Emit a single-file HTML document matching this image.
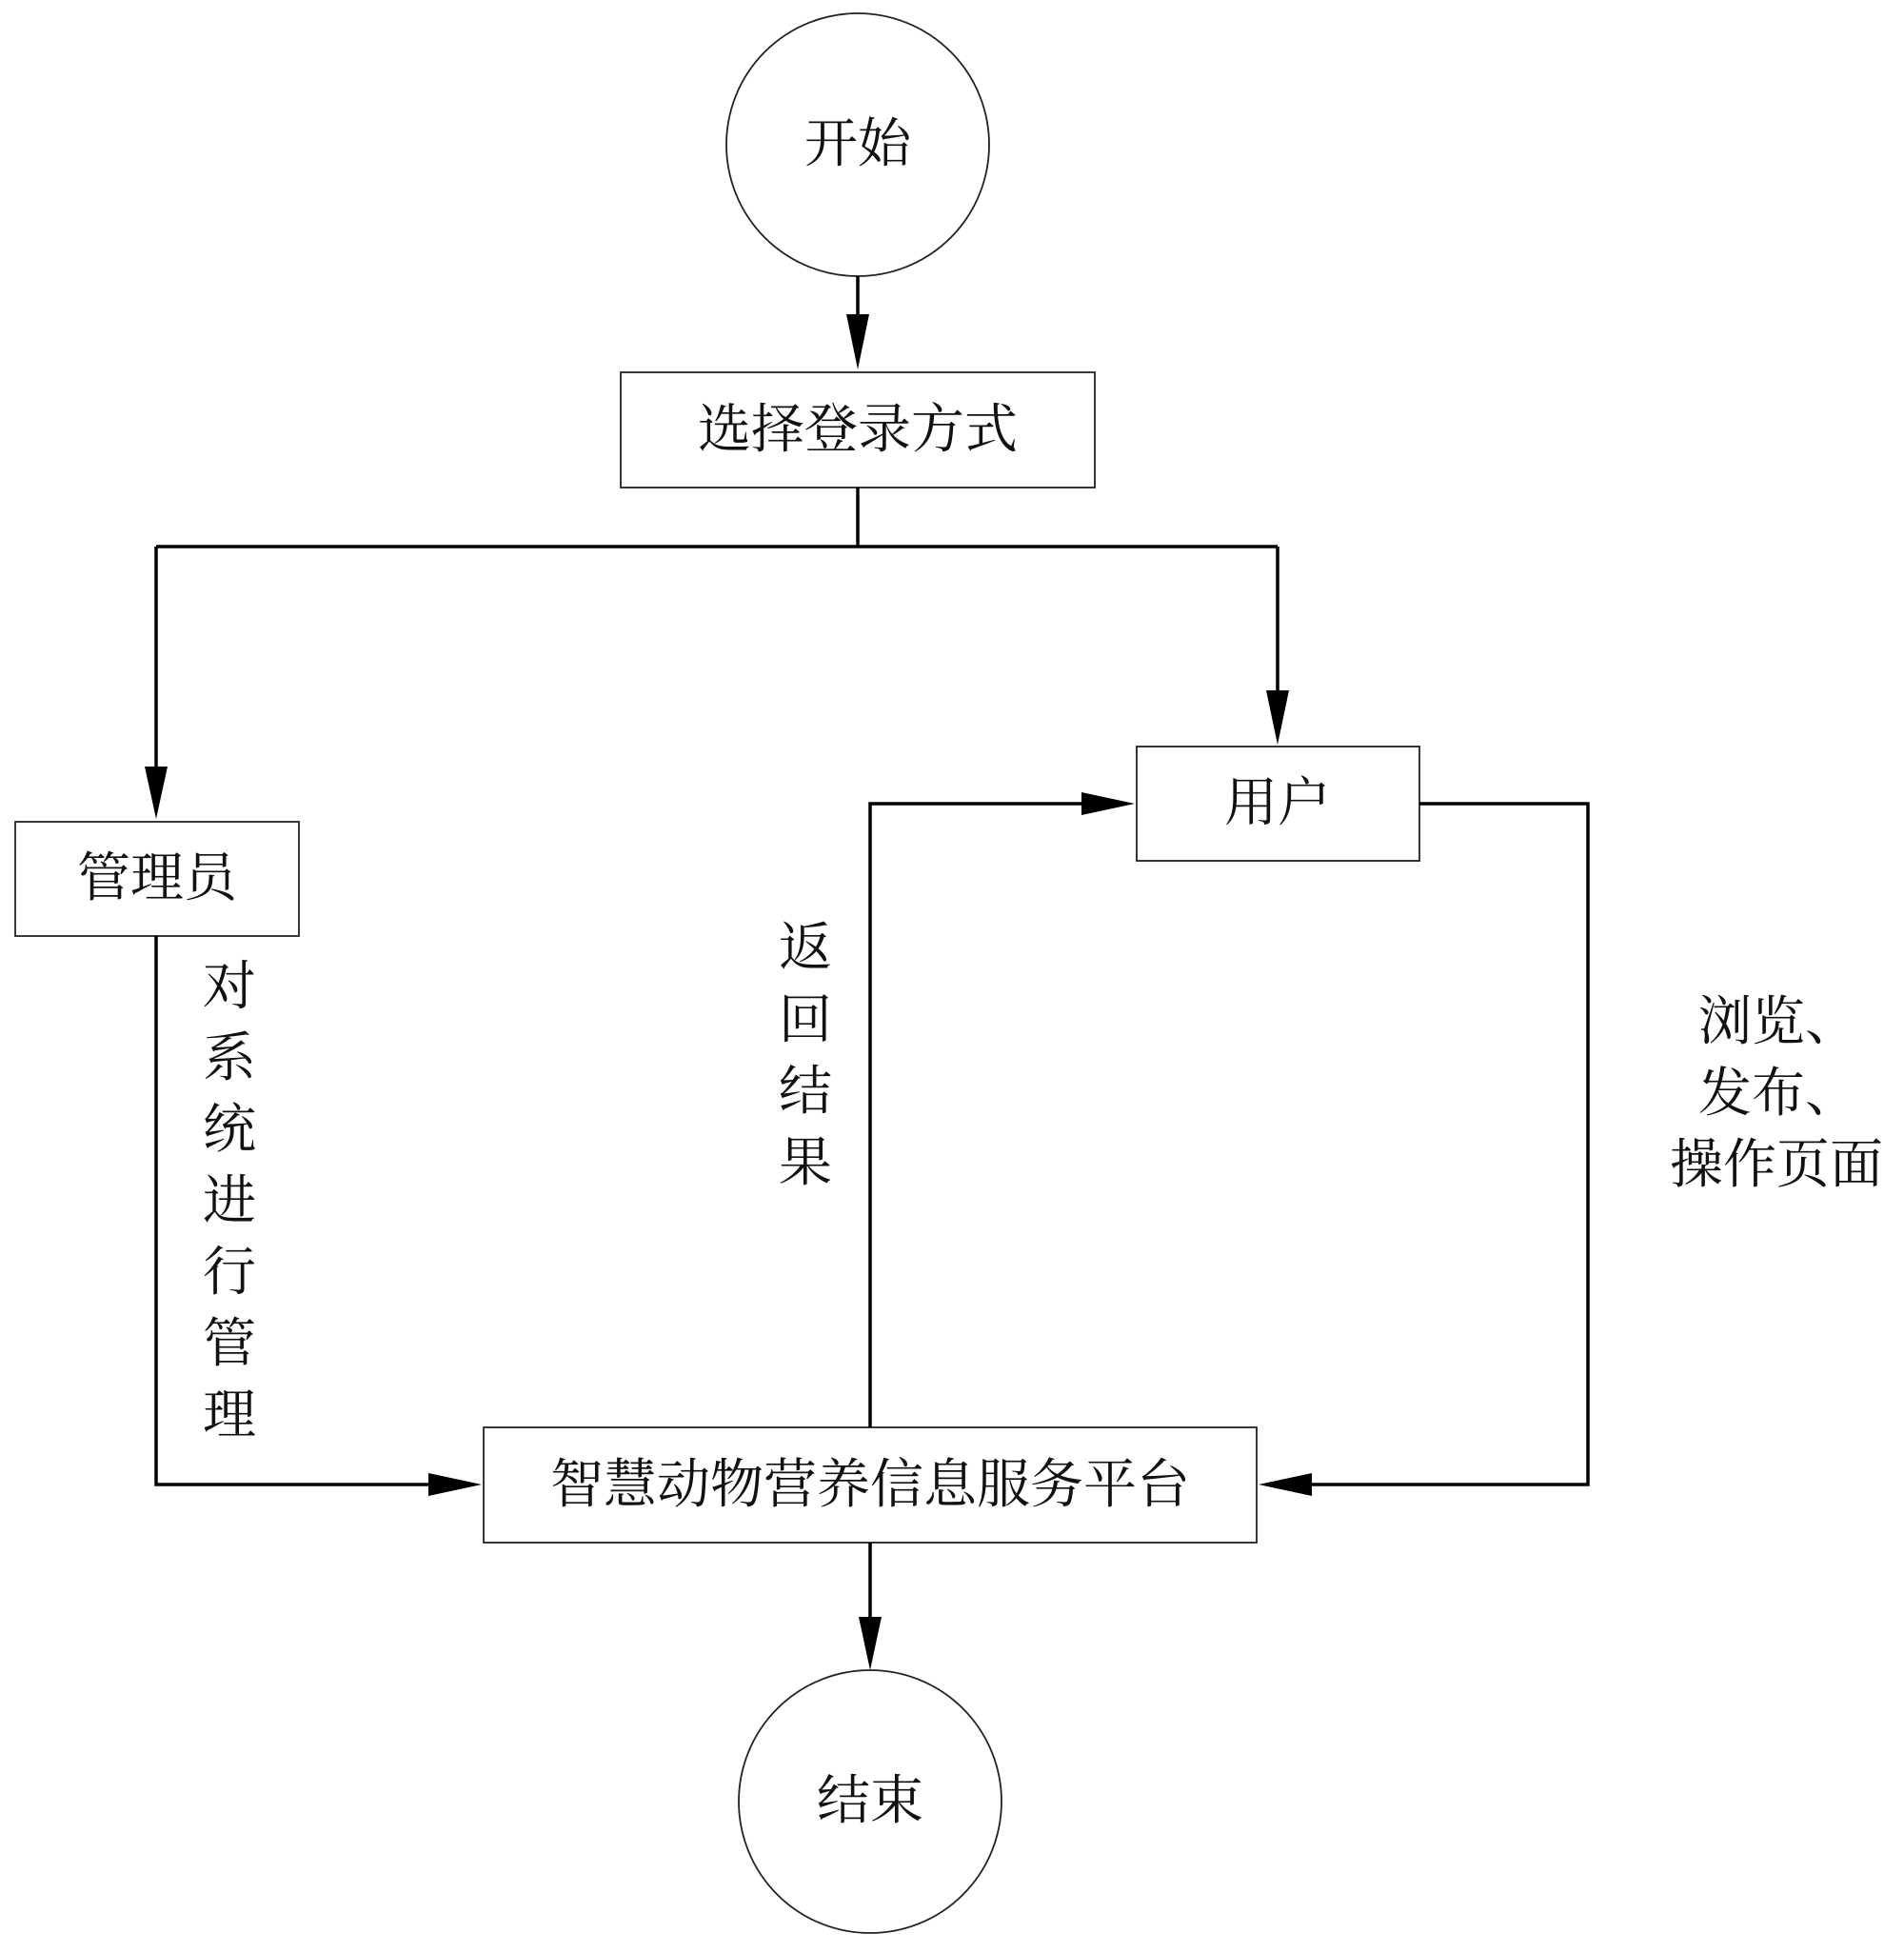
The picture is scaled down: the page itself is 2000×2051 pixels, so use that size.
<!DOCTYPE html>
<html><head><meta charset="utf-8"><style>
html,body{margin:0;padding:0;background:#fff}
svg text{font-family:"Liberation Serif","Noto Serif CJK SC",serif;font-size:56px;fill:#111}
</style></head><body>
<svg width="2000" height="2046" viewBox="0 0 2000 2046" xmlns="http://www.w3.org/2000/svg">
<defs>
<marker id="a" markerWidth="10" markerHeight="8" refX="10" refY="4" orient="auto" markerUnits="userSpaceOnUse" viewBox="0 0 10 8" style="overflow:visible">
</marker>
</defs>
<g fill="none" stroke="#222" stroke-width="1.8">
<circle cx="901" cy="152" r="138"/>
<rect x="652" y="391" width="498" height="121"/>
<rect x="1194" y="784" width="297" height="120"/>
<rect x="16" y="863" width="298" height="120"/>
<rect x="508" y="1499" width="812" height="121"/>
<circle cx="914" cy="1892" r="138"/>
</g>
<g fill="none" stroke="#000" stroke-width="3.5">
<path d="M901 290V340"/>
<path d="M901 512V574M164 574H1342M164 574V815M1342 574V735"/>
<path d="M164 983V1559H455"/>
<path d="M914 1499V844H1140"/>
<path d="M1491 844H1668V1559H1372"/>
<path d="M914 1620V1705"/>
</g>
<g fill="#000">
<polygon points="889,330 913,330 901,388"/>
<polygon points="152,805 176,805 164,860"/>
<polygon points="1330,725 1354,725 1342,782"/>
<polygon points="450,1547 450,1571 506,1559"/>
<polygon points="1136,832 1136,856 1192,844"/>
<polygon points="1378,1547 1378,1571 1322,1559"/>
<polygon points="902,1698 926,1698 914,1754"/>
</g>
<g text-anchor="middle" dominant-baseline="central">
<text x="901" y="152">开始</text>
<text x="901" y="452">选择登录方式</text>
<text x="1342" y="844">用户</text>
<text x="165" y="923">管理员</text>
<text x="914" y="1560">智慧动物营养信息服务平台</text>
<text x="914" y="1892">结束</text>
<text x="241" y="1037">对</text>
<text x="241" y="1112">系</text>
<text x="241" y="1187">统</text>
<text x="241" y="1262">进</text>
<text x="241" y="1337">行</text>
<text x="241" y="1412">管</text>
<text x="241" y="1487">理</text>
<text x="846" y="996">返</text>
<text x="846" y="1072">回</text>
<text x="846" y="1147">结</text>
<text x="846" y="1222">果</text>
<text x="1868" y="1074">浏览、</text>
<text x="1868" y="1149">发布、</text>
<text x="1866" y="1224">操作页面</text>
</g>
</svg>
</body></html>
